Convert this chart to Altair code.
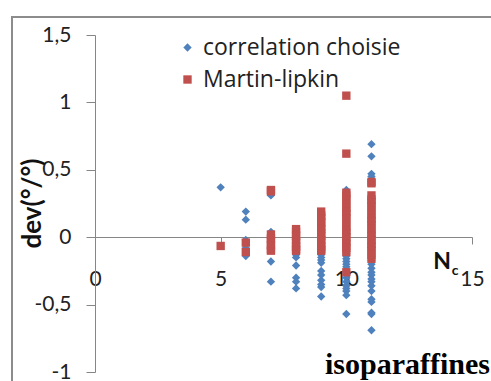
import altair as alt
import pandas as pd

# N_c values and deviations
blue_nc = [5, 6, 7, 8, 9, 10, 11]
blue_dev = [
    [0.37],
    [0.19, 0.13, -0.02, -0.08, -0.14],
    [0.31, 0.04, -0.05, -0.18, -0.33],
    [-0.13, -0.15, -0.21, -0.30, -0.33, -0.38],
    [-0.11, -0.13, -0.15, -0.17, -0.19, -0.25, -0.28, -0.32, -0.35, -0.37, -0.44],
    [0.35, -0.12, -0.14, -0.16, -0.18, -0.20, -0.22, -0.30, -0.33, -0.36, -0.38, -0.40, -0.43, -0.57],
    [0.69, 0.60, 0.47, 0.45, -0.17, -0.20, -0.23, -0.26, -0.28, -0.31, -0.33, -0.36, -0.40,
     -0.46, -0.48, -0.56, -0.57, -0.69],
]
red_nc = [5, 6, 7, 8, 9, 10, 11]
red_dev = [
    [-0.065],
    [-0.04, -0.11],
    [0.35, 0.34, 0.02, -0.01, -0.03, -0.06, -0.09, -0.10],
    [0.06, 0.04, 0.01, -0.02, -0.04, -0.07, -0.09, -0.10],
    [0.19, 0.16, 0.14, 0.11, 0.08, 0.06, 0.03, 0.01, -0.02, -0.04, -0.07, -0.09, -0.10],
    [1.05, 0.62, 0.33, 0.31, 0.28, 0.25, 0.22, 0.19, 0.17, 0.14, 0.11, 0.08, 0.05, 0.03,
     0.00, -0.03, -0.05, -0.08, -0.11, -0.26],
    [0.41, 0.40, 0.31, 0.28, 0.26, 0.23, 0.20, 0.17, 0.14, 0.12, 0.09, 0.06, 0.03, 0.01,
     -0.02, -0.05, -0.07, -0.10, -0.13, -0.16],
]
series_names = ["correlation choisie", "Martin-lipkin"]
x_ticks = [0, 5, 10, 15]
y_ticks = [-1, -0.5, 0, 0.5, 1, 1.5]

rows = []
for nc, vals in zip(blue_nc, blue_dev):
    for v in vals:
        rows.append({"nc": nc, "dev": v, "serie": series_names[0], "o": 0})
for nc, vals in zip(red_nc, red_dev):
    for v in vals:
        rows.append({"nc": nc, "dev": v, "serie": series_names[1], "o": 1})
df = pd.DataFrame(rows)

AX = "#868686"
FONT = "Lato"
W, H = 377, 337

legend_cfg = dict(title=None, orient="none", legendX=81, legendY=1,
                  labelFont="Open Sans", labelFontSize=23, labelColor="#222222", labelLimit=0,
                  rowPadding=8, labelOffset=4, padding=0, symbolSize=70)

points = alt.Chart(df).mark_point(filled=True, opacity=1, size=70).encode(
    x=alt.X("nc:Q", scale=alt.Scale(domain=[0, 15], nice=False, zero=False),
            axis=alt.Axis(values=x_ticks, title=None, grid=False, offset=-135,
                          domainColor=AX, tickColor=AX, tickSize=7,
                          labelPadding=24, labelFontSize=21, labelFont=FONT,
                          labelColor="#222222", labelFlush=False)),
    y=alt.Y("dev:Q", scale=alt.Scale(domain=[-1, 1.5], nice=False, zero=False),
            axis=alt.Axis(values=y_ticks, title="dev(°/°)", grid=False,
                          labelExpr="replace(toString(datum.value), '.', ',')",
                          domainColor=AX, tickColor=AX, tickSize=9,
                          labelPadding=15, labelFontSize=21, labelFont=FONT,
                          labelColor="#222222",
                          titleFont=FONT, titleFontSize=26, titleFontWeight="bold",
                          titleColor="#111111", titleX=-63, titleY=168,
                          titleAngle=270, titleAlign="center", titleBaseline="middle")),
    color=alt.Color("serie:N", scale=alt.Scale(domain=series_names, range=["#4F81BD", "#C0504D"]),
                    legend=alt.Legend(**legend_cfg)),
    shape=alt.Shape("serie:N", scale=alt.Scale(domain=series_names, range=["diamond", "square"]),
                    legend=alt.Legend(**legend_cfg)),
    order=alt.Order("o:Q"),
)

frame_left = alt.Chart().mark_rule(color="#8c8c8c", strokeWidth=2).encode(
    x=alt.value(-83), y=alt.value(-18), y2=alt.value(H + 20))
frame_top = alt.Chart().mark_rule(color="#8c8c8c", strokeWidth=2).encode(
    x=alt.value(-84), x2=alt.value(W + 30), y=alt.value(-18))

n_label = alt.Chart().mark_text(text="N", font=FONT, fontSize=23, fontWeight="bold",
                                color="#111111", align="center", baseline="middle").encode(
    x=alt.value(347), y=alt.value(227))
c_label = alt.Chart().mark_text(text="c", font=FONT, fontSize=14, fontWeight="bold",
                                color="#111111", align="center", baseline="middle").encode(
    x=alt.value(360), y=alt.value(236))
iso_label = alt.Chart().mark_text(text="isoparaffines", font="Liberation Serif", fontSize=30,
                                  fontWeight="bold", color="#000000", align="left",
                                  baseline="middle").encode(
    x=alt.value(230), y=alt.value(330))

chart = alt.layer(frame_left, frame_top, points, n_label, c_label, iso_label).properties(
    width=W, height=H,
    padding={"left": 95, "top": 35, "right": 19, "bottom": 9},
    autosize=alt.AutoSizeParams(type="none"),
    background="white",
).configure_view(stroke=None)

chart.save("out.html", embed_options={"renderer": "svg", "actions": False})
